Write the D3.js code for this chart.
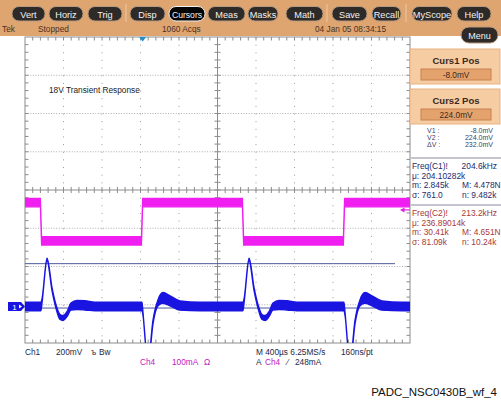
<!DOCTYPE html>
<html><head><meta charset="utf-8">
<script src="https://cdn.jsdelivr.net/npm/d3@7"></script>
<style>
html,body{margin:0;padding:0;background:#fff;}
svg{display:block;font-family:"Liberation Sans",Arial,sans-serif;}
</style></head>
<body><svg id="c" width="501" height="406"></svg>
<script>
// ---------- data ----------
const menuButtons = ["Vert","Horiz","Trig","Disp","Cursors","Meas","Masks","Math","Save","Recall","MyScope","Help"];
const activeButton = "Cursors";
const statusTexts = ["Tek","Stopped","1060 Acqs","04 Jan 05 08:34:15"];
const chartTitle = "18V Transient Response";

// time in microseconds across the 10-division screen (400 us/div)
const timeDomain = [0, 4000];
// Ch1 output voltage (mV, AC) : centre value and half width of the noise band
const ch1Time = [0,166,177,229,281,322,364,395,436,478,540,623,727,1216,1226,1278,1330,1382,1434,1507,1610,1818,
                 2265,2276,2328,2380,2421,2462,2494,2535,2577,2639,2722,2826,3314,3325,3377,3429,3481,3533,3605,3709,3917,4000];
const ch1mV   = [0,0,30,246,90,0,-55,-60,-40,0,8,6,0,0,-40,-300,-80,20,45,30,5,0,
                 0,30,246,90,0,-55,-60,-40,0,8,6,0,0,-40,-300,-80,20,45,30,5,0,0];
const ch1Band = [22,22,10,7,7,9,13,13,13,18,24,24,22,22,7,7,9,16,28,26,24,22,
                 22,10,7,7,9,13,13,13,18,24,24,22,22,7,7,9,16,28,26,24,22,22];
// Ch4 load current (mA)
const ch4Time = [0,160,172,1210,1222,2259,2271,3308,3320,4000];
const ch4mA   = [267,267,167,167,267,267,167,167,267,267];
const ch4Band = 11;
const cursorMv = [-8, 224];
const ch1Position = -3.046, ch4Position = -3.0;   // divisions
const ch1VoltsPerDiv = 200, ch4AmpsPerDiv = 100;
const triggerTime = 1222, triggerLevelmA = 248;

const readCursor = [["Curs1 Pos","-8.0mV"],["Curs2 Pos","224.0mV"]];
const readDelta = [["V1 :","-8.0mV"],["V2 :","224.0mV"],["ΔV :","232.0mV"]];
const meas1 = [["Freq(C1)!","204.6kHz"],["μ: 204.10282k",""],["m: 2.845k","M: 4.478N"],["σ: 761.0","n: 9.482k"]];
const meas2 = [["Freq(C2)!","213.2kHz"],["μ: 236.89014k",""],["m: 30.41k","M: 4.651N"],["σ: 81.09k","n: 10.24k"]];
const footer = "PADC_NSC0430B_wf_4";

// ---------- layout ----------
const svg = d3.select("#c");
const G = {l:25, r:410, t:37, b:343};
const tan = "#dfa571";
const x = d3.scaleLinear().domain(timeDomain).range([G.l, G.r]);
const yDiv = d3.scaleLinear().domain([-4,4]).range([G.b, G.t]);
const y1 = d3.scaleLinear().domain([(-4-ch1Position)*ch1VoltsPerDiv,(4-ch1Position)*ch1VoltsPerDiv]).range([G.b,G.t]);
const y4 = d3.scaleLinear().domain([(-4-ch4Position)*ch4AmpsPerDiv,(4-ch4Position)*ch4AmpsPerDiv]).range([G.b,G.t]);

// top bar
svg.append("rect").attr("x",0).attr("y",0).attr("width",501).attr("height",36).attr("fill",tan);
const btnX = [[12,45],[49,83],[88,122],[130,165],[169,205],[208,245],[248,278],[286,323],[332,367],[372,401],[412,452],[457,491]];
menuButtons.forEach((b,i)=>{
  const [a,e] = btnX[i];
  const act = b===activeButton;
  svg.append("rect").attr("x",a).attr("y",6.5).attr("width",e-a).attr("height",14.5).attr("rx",7).attr("ry",7)
    .attr("fill",act?"#050505":"#2e2a28").attr("stroke",act?"#f0f0f0":"#b89a80").attr("stroke-width",1);
  svg.append("text").attr("x",(a+e)/2).attr("y",17.5).attr("text-anchor","middle").attr("font-size",act?8.6:9.2)
    .attr("fill","#f2f2f2").text(b);
});
[126,327,406].forEach(s=>svg.append("line").attr("x1",s).attr("x2",s).attr("y1",4).attr("y2",22).attr("stroke","#f0c8a0").attr("stroke-width",1));
const stX = [2,38,162,315];
statusTexts.forEach((t,i)=>svg.append("text").attr("x",stX[i]).attr("y",32).attr("font-size",8.3).attr("fill","#4a3222").text(t));
// Menu button
svg.append("rect").attr("x",461).attr("y",27).attr("width",37).attr("height",16).attr("rx",8).attr("fill","#2e2a28").attr("stroke","#b89a80");
svg.append("text").attr("x",479.5).attr("y",38.5).attr("text-anchor","middle").attr("font-size",9).attr("fill","#f2f2f2").text("Menu");

// graticule
const grat = svg.append("g").attr("stroke","#8c8c8c").attr("fill","none");
d3.range(1,10).filter(i=>i!==5).forEach(i=>{
  const xx = G.l + i*(G.r-G.l)/10;
  grat.append("line").attr("x1",xx).attr("x2",xx).attr("y1",G.t).attr("y2",G.b).attr("stroke-dasharray","1,6.65").attr("stroke","#9a9a9a");
});
d3.range(-3,4).filter(j=>j!==0).forEach(j=>{
  const yy = yDiv(j);
  grat.append("line").attr("x1",G.l).attr("x2",G.r).attr("y1",yy).attr("y2",yy).attr("stroke-dasharray","1,1.6").attr("stroke","#b0b0b0");
});
grat.append("rect").attr("x",G.l).attr("y",G.t).attr("width",G.r-G.l).attr("height",G.b-G.t);
const cx = (G.l+G.r)/2, cy = yDiv(0);
grat.append("line").attr("x1",G.l).attr("x2",G.r).attr("y1",cy).attr("y2",cy);
grat.append("line").attr("x1",cx).attr("x2",cx).attr("y1",G.t).attr("y2",G.b);
d3.range(1,50).forEach(k=>{
  const xx = G.l + k*(G.r-G.l)/50;
  grat.append("line").attr("x1",xx).attr("x2",xx).attr("y1",cy-3).attr("y2",cy+3);
  grat.append("line").attr("x1",xx).attr("x2",xx).attr("y1",G.t).attr("y2",G.t+3.5);
  grat.append("line").attr("x1",xx).attr("x2",xx).attr("y1",G.b).attr("y2",G.b-3.5);
});
d3.range(1,40).forEach(k=>{
  const yy = G.t + k*(G.b-G.t)/40;
  grat.append("line").attr("x1",cx-3).attr("x2",cx+3).attr("y1",yy).attr("y2",yy);
  grat.append("line").attr("x1",G.l).attr("x2",G.l+3.5).attr("y1",yy).attr("y2",yy);
  grat.append("line").attr("x1",G.r).attr("x2",G.r-3.5).attr("y1",yy).attr("y2",yy);
});

// title
svg.append("text").attr("x",49).attr("y",93).attr("font-size",8.3).attr("fill","#222").text(chartTitle);

// cursors
cursorMv.forEach(v=>svg.append("line").attr("x1",G.l).attr("x2",395).attr("y1",y1(v)).attr("y2",y1(v))
  .attr("stroke","#4c5a9c").attr("stroke-width",1));

// traces
svg.append("clipPath").attr("id","gc").append("rect").attr("x",G.l).attr("y",G.t).attr("width",G.r-G.l).attr("height",G.b-G.t);
const tr = svg.append("g").attr("clip-path","url(#gc)");
const ch4Data = ch4Time.map((t,i)=>({t,v:ch4mA[i],b:ch4Band}));
tr.append("path").datum(ch4Data)
  .attr("d",d3.area().x(d=>x(d.t)).y0(d=>y4(d.v-d.b)).y1(d=>y4(d.v+d.b)).curve(d3.curveLinear))
  .attr("fill","#f01ef0").attr("stroke","#f01ef0").attr("stroke-width",1.2);
const ch1Data = ch1Time.map((t,i)=>({t,v:ch1mV[i],b:ch1Band[i]}));
tr.append("path").datum(ch1Data)
  .attr("d",d3.area().x(d=>x(d.t)).y0(d=>y1(d.v-d.b)).y1(d=>y1(d.v+d.b)).curve(d3.curveMonotoneX))
  .attr("fill","#1a14e0").attr("stroke","#1a14e0").attr("stroke-width",1.4);

// trigger position marker
const tx = x(triggerTime);
svg.append("path").attr("d",`M${tx-3.5},${G.t}L${tx+3.5},${G.t}L${tx},${G.t+4.5}Z`).attr("fill","#1c8ed2");
// trigger level marker (Ch4)
const ty = y4(triggerLevelmA);
svg.append("line").attr("x1",403).attr("x2",410).attr("y1",ty).attr("y2",ty).attr("stroke","#e020e0").attr("stroke-width",1.2);
svg.append("path").attr("d",`M400,${ty}L404.5,${ty-2.5}L404.5,${ty+2.5}Z`).attr("fill","#e020e0");
// Ch1 ground marker
const gy = y1(0);
svg.append("path").attr("d",`M8,${gy-4.5}L21,${gy-4.5}L25,${gy}L21,${gy+4.5}L8,${gy+4.5}Z`).attr("fill","#1a14e0");
svg.append("text").attr("x",14.5).attr("y",gy+3).attr("text-anchor","middle").attr("font-size",8).attr("fill","#fff").text("1");
svg.append("path").attr("d",`M19,${gy-2}L22,${gy}L19,${gy+2}Z`).attr("fill","#fff");

// right panel
const pan = svg.append("g");
readCursor.forEach(([t,v],i)=>{
  const y0 = 49 + i*40;
  pan.append("rect").attr("x",410).attr("y",y0).attr("width",90).attr("height",35).attr("fill","#f6cca2").attr("stroke","#e8b080");
  pan.append("text").attr("x",456).attr("y",y0+14.5).attr("text-anchor","middle").attr("font-size",9.5).attr("font-weight","bold").attr("fill","#3a2a1e").text(t);
  pan.append("rect").attr("x",421).attr("y",y0+20).attr("width",70).attr("height",11).attr("fill","#e4a26c").attr("stroke","#c88050");
  pan.append("text").attr("x",456).attr("y",y0+28.8).attr("text-anchor","middle").attr("font-size",8.3).attr("fill","#3a2a1e").text(v);
});
readDelta.forEach(([l,v],i)=>{
  pan.append("text").attr("x",427).attr("y",133+i*7).attr("font-size",7).attr("fill","#3a3f6a").text(l);
  pan.append("text").attr("x",493).attr("y",133+i*7).attr("text-anchor","end").attr("font-size",7).attr("fill","#3a3f6a").text(v);
});
[158,205].forEach(s=>pan.append("line").attr("x1",411).attr("x2",501).attr("y1",s).attr("y2",s).attr("stroke","#8a8aa0"));
function meas(rows, y0, col){
  rows.forEach(([a,b],i)=>{
    const yy = y0 + i*9.6;
    pan.append("text").attr("x",412).attr("y",yy).attr("font-size",8.4).attr("fill",col).text(a);
    if(b){
      if(i===0) pan.append("text").attr("x",497).attr("y",yy).attr("text-anchor","end").attr("font-size",8.4).attr("fill",col).text(b);
      else pan.append("text").attr("x",462).attr("y",yy).attr("font-size",8.4).attr("fill",col).text(b);
    }
  });
}
meas(meas1, 169, "#1e2a6e");
meas(meas2, 216, "#a8383a");

// bottom readouts
const bt = svg.append("g").attr("font-size",8.3);
bt.append("text").attr("x",25).attr("y",355).attr("fill","#23284a").text("Ch1");
bt.append("text").attr("x",56).attr("y",355).attr("fill","#23284a").text("200mV");
bt.append("text").attr("x",91).attr("y",355).attr("fill","#23284a").text("ъ");
bt.append("text").attr("x",99).attr("y",355).attr("fill","#23284a").text("Bw");
bt.append("text").attr("x",140).attr("y",365).attr("fill","#c020c0").text("Ch4");
bt.append("text").attr("x",172).attr("y",365).attr("fill","#c020c0").text("100mA");
bt.append("text").attr("x",204).attr("y",365).attr("fill","#c020c0").text("Ω");
bt.append("text").attr("x",256).attr("y",355).attr("fill","#23284a").text("M 400µs 6.25MS/s");
bt.append("text").attr("x",341).attr("y",355).attr("fill","#23284a").text("160ns/pt");
bt.append("text").attr("x",256).attr("y",365).attr("fill","#23284a").text("A");
bt.append("text").attr("x",265).attr("y",365).attr("fill","#c020c0").text("Ch4");
bt.append("text").attr("x",287).attr("y",365).attr("fill","#23284a").text("⁄");
bt.append("text").attr("x",295).attr("y",365).attr("fill","#23284a").text("248mA");

svg.append("text").attr("x",497).attr("y",396).attr("text-anchor","end").attr("font-size",11.5).attr("fill","#111").text(footer);
</script></body></html>
